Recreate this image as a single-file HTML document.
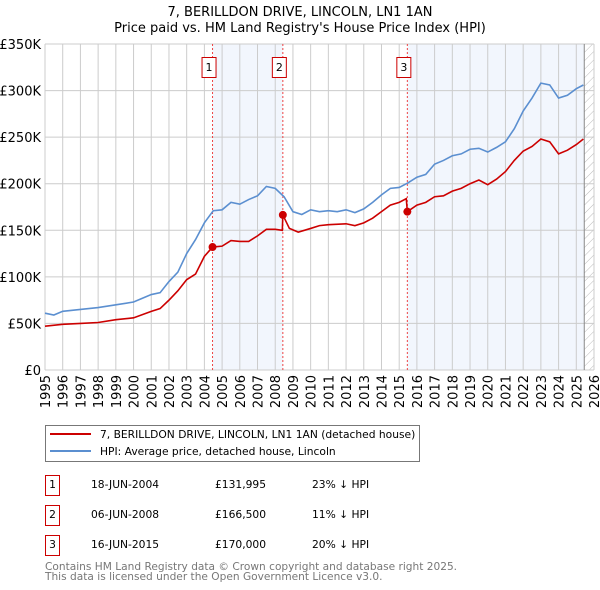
<!DOCTYPE html>
<html><head><meta charset="utf-8"><style>
body{margin:0;background:#fff;font-family:"DejaVu Sans","Liberation Sans",sans-serif;}
svg{display:block}
</style></head><body>
<svg id="c" width="600" height="590" xmlns="http://www.w3.org/2000/svg" font-family="DejaVu Sans, Liberation Sans, sans-serif">
<defs><pattern id="hatch" width="6" height="6" patternUnits="userSpaceOnUse" patternTransform="rotate(45)"><line x1="0" y1="0" x2="0" y2="6" stroke="#bbb" stroke-width="1"/></pattern></defs>
<text x="300" y="16" text-anchor="middle" font-size="13" fill="#000">7, BERILLDON DRIVE, LINCOLN, LN1 1AN</text>
<text x="300" y="32" text-anchor="middle" font-size="13" fill="#000">Price paid vs. HM Land Registry's House Price Index (HPI)</text>
<g id="plot"></g>
<g>
<rect x="45.5" y="425.5" width="374" height="36" fill="#fff" stroke="#777"/>
<line x1="50" y1="434" x2="91" y2="434" stroke="#cc0000" stroke-width="2"/>
<text x="100" y="438" font-size="10.7">7, BERILLDON DRIVE, LINCOLN, LN1 1AN (detached house)</text>
<line x1="50" y1="451" x2="91" y2="451" stroke="#5b8fd0" stroke-width="2"/>
<text x="100" y="455" font-size="10.7">HPI: Average price, detached house, Lincoln</text>
</g>
<g font-size="10.7">
<rect x="45.5" y="475.5" width="14" height="20" fill="none" stroke="#cc0000"/><text x="52.5" y="488" text-anchor="middle">1</text>
<text x="91" y="488">18-JUN-2004</text><text x="215" y="488">£131,995</text><text x="312" y="488">23% ↓ HPI</text>
<rect x="45.5" y="505.5" width="14" height="20" fill="none" stroke="#cc0000"/><text x="52.5" y="518" text-anchor="middle">2</text>
<text x="91" y="518">06-JUN-2008</text><text x="215" y="518">£166,500</text><text x="312" y="518">11% ↓ HPI</text>
<rect x="45.5" y="535.5" width="14" height="20" fill="none" stroke="#cc0000"/><text x="52.5" y="548" text-anchor="middle">3</text>
<text x="91" y="548">16-JUN-2015</text><text x="215" y="548">£170,000</text><text x="312" y="548">20% ↓ HPI</text>
</g>
<text x="45" y="570" font-size="10.6" fill="#777">Contains HM Land Registry data © Crown copyright and database right 2025.</text>
<text x="45" y="580" font-size="10.6" fill="#777">This data is licensed under the Open Government Licence v3.0.</text>
</svg>
<script>
const hpiYears=[1995,1995.5,1996,1997,1998,1999,2000,2000.5,2001,2001.5,2002,2002.5,2003,2003.5,2004,2004.5,2005,2005.5,2006,2006.5,2007,2007.5,2008,2008.5,2009,2009.5,2010,2010.5,2011,2011.5,2012,2012.5,2013,2013.5,2014,2014.5,2015,2015.5,2016,2016.5,2017,2017.5,2018,2018.5,2019,2019.5,2020,2020.5,2021,2021.5,2022,2022.5,2023,2023.5,2024,2024.5,2025,2025.4];
const hpiValues=[61,59,63,65,67,70,73,77,81,83,95,105,125,140,158,171,172,180,178,183,187,197,195,186,170,167,172,170,171,170,172,169,173,180,188,195,196,201,207,210,221,225,230,232,237,238,234,239,245,259,278,292,308,306,292,295,302,306];
const priceYears=[1995,1996,1997,1998,1999,2000,2001,2001.5,2002,2002.5,2003,2003.5,2004,2004.46,2005,2005.5,2006,2006.5,2007,2007.5,2008,2008.4,2008.43,2008.8,2009.3,2010,2010.5,2011,2012,2012.5,2013,2013.5,2014,2014.5,2015,2015.4,2015.46,2016,2016.5,2017,2017.5,2018,2018.5,2019,2019.5,2020,2020.5,2021,2021.5,2022,2022.5,2023,2023.5,2024,2024.5,2025,2025.4];
const priceValues=[47,49,50,51,54,56,63,66,75,85,97,103,122,132,133,139,138,138,144,151,151,150,166.5,152,148,152,155,156,157,155,158,163,170,177,180,184,170,177,180,186,187,192,195,200,204,199,205,213,225,235,240,248,245,232,236,242,248];
const saleYears=[2004.46,2008.43,2015.46];
const saleValues=[131.995,166.5,170];
const saleLabels=["1","2","3"];
const yTicks=[0,50,100,150,200,250,300,350];
const yTickLabels=["£0","£50K","£100K","£150K","£200K","£250K","£300K","£350K"];
const xTicks=[1995,1996,1997,1998,1999,2000,2001,2002,2003,2004,2005,2006,2007,2008,2009,2010,2011,2012,2013,2014,2015,2016,2017,2018,2019,2020,2021,2022,2023,2024,2025,2026];
const dataEnd=2025.45;

const L=45,R=594,T=44,B=370;
const X=y=>L+(y-1995)/(2026-1995)*(R-L);
const Y=v=>B-v/350*(B-T);
const NS="http://www.w3.org/2000/svg";
const g=document.getElementById('plot');
function mk(t,a,p){const e=document.createElementNS(NS,t);for(const k in a)e.setAttribute(k,a[k]);(p||g).appendChild(e);return e;}

const s1=mk('rect',{x:X(saleYears[0]),y:T,width:X(saleYears[1])-X(saleYears[0]),height:B-T,fill:'#eef3fc',opacity:0.75});


const s2=mk('rect',{x:X(saleYears[2]),y:T,width:X(dataEnd)-X(saleYears[2]),height:B-T,fill:'#eef3fc',opacity:0.75});


const h=mk('rect',{x:X(dataEnd),y:T,width:R-X(dataEnd),height:B-T,fill:'url(#hatch)'});



yTicks.forEach((v,i)=>{
  const l=mk('line',{x1:L,x2:R,y1:Y(v),y2:Y(v),stroke:'#ccc','stroke-width':1});
  
  
  const t=mk('text',{x:L-4,y:Y(v)+5,'text-anchor':'end','font-size':13,fill:'#000'});
  t.textContent=yTickLabels[i];
  
  
});
xTicks.forEach(yr=>{
  const l=mk('line',{x1:X(yr),x2:X(yr),y1:T,y2:B,stroke:'#ccc','stroke-width':1});
  
  
  const t=mk('text',{x:0,y:0,'text-anchor':'end','font-size':13,fill:'#000',transform:`translate(${X(yr)+5},${B+5}) rotate(-90)`});
  t.textContent=yr;
  
  
});
const ed=mk('line',{x1:X(dataEnd),x2:X(dataEnd),y1:T,y2:B,stroke:'#888','stroke-width':1});



saleYears.forEach((yr,i)=>{
  const l=mk('line',{x1:X(yr),x2:X(yr),y1:T,y2:B,stroke:'#ee4444','stroke-width':1,'stroke-dasharray':'2,2'});
  
  
});

const hp=mk('polyline',{points:hpiYears.map((y,i)=>X(y)+','+Y(hpiValues[i])).join(' '),fill:'none',stroke:'#5b8fd0','stroke-width':1.6});


const pp=mk('polyline',{points:priceYears.map((y,i)=>X(y)+','+Y(priceValues[i])).join(' '),fill:'none',stroke:'#cc0000','stroke-width':1.6});



saleYears.forEach((yr,i)=>{
  const c=mk('circle',{cx:X(yr),cy:Y(saleValues[i]),r:4,fill:'#cc0000'});
  
  
  const b=mk('rect',{x:X(yr)-10.5,y:57.5,width:14,height:20,fill:'#fff',stroke:'#cc0000'});
  
  
  const t=mk('text',{x:X(yr)-3.5,y:71,'text-anchor':'middle','font-size':11,fill:'#000'});
  t.textContent=saleLabels[i];
  
  
});
</script>
</body></html>
